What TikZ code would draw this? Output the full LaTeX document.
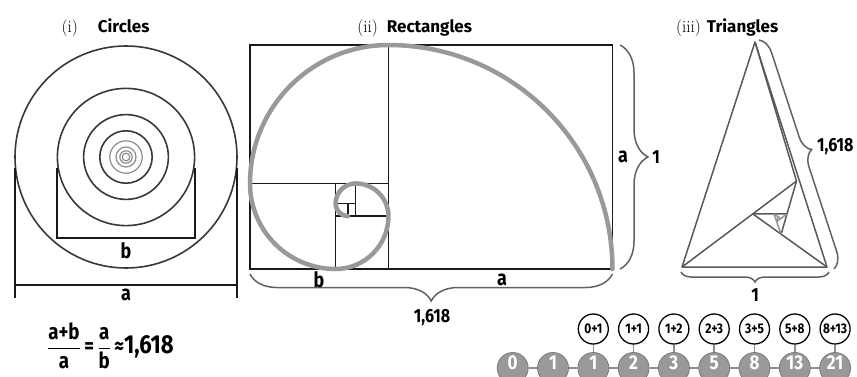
\documentclass[tikz,border=0pt]{standalone}
\usepackage{amsmath}
\usepackage{fontspec}
\usetikzlibrary{calc, decorations.pathreplacing}

\newfontfamily\lblfont{Fira Sans}[FakeStretch=0.85]
\newfontfamily\headfont{Fira Sans}

\begin{document}
\begin{tikzpicture}[x=1pt, y=1pt, % 1 unit = 1 pixel of the layout
      ring/.style={draw=black!78, line width=1.6pt},
      smallring/.style={draw=black!45, line width=1.2pt},
      frame/.style={draw=black!90, line width=1.3pt},
      spiral/.style={draw=black!40, line width=4.5pt, line cap=round},
      tri/.style={draw=black!#1, line width=1.5pt, line join=round},
      tri/.default=65,
      curly/.style={decorate, decoration={brace, amplitude=#1}, draw=black!62, line width=1.5pt},
      lbl/.style={font=\lblfont\bfseries\fontsize{21}{24}\selectfont, inner sep=0pt},
      num/.style={font=\lblfont\bfseries\fontsize{19}{22}\selectfont, inner sep=0pt},
      roman/.style={font=\fontsize{17}{20}\selectfont, anchor=base east, inner sep=0pt},
      heading/.style={font=\headfont\bfseries\fontsize{17}{20}\selectfont, anchor=base west, inner sep=0pt},
      fib/.style={circle, fill=black!40, draw=black!52, line width=0.8pt, minimum size=31pt, inner sep=0pt, text depth=11pt, text=white, font=\lblfont\bfseries\fontsize{20}{22}\selectfont},
      sumbox/.style={circle, fill=white, draw=black, line width=1.3pt, minimum size=30pt, inner sep=0pt, font=\lblfont\bfseries\fontsize{14}{16}\selectfont},
      link/.style={draw=black!45, line width=1.5pt}]

      % Fix the page to the layout size
      \useasboundingbox (0,0) rectangle (857,376);

      % (i) Circles: rings shrinking by the golden ratio
      \coordinate (O) at (126,219);
      \foreach \k in {0,...,3}
        \draw[ring] (O) circle[radius={111/1.618^\k}];
      \foreach \k in {4,...,7}
        \draw[smallring] (O) circle[radius={111/1.618^\k}];

      % Width a of the outer ring
      \draw[frame] (15,208) -- (15,78);
      \draw[frame] (237,208) -- (237,78);
      \draw[frame] (15,91) -- (237,91);
      \node[lbl] (ca) at (126,81) {a};
      % Width b of the second ring
      \draw[frame] (57,208) -- (57,138) -- (195,138) -- (195,208);
      \node[lbl] (cb) at (126,125) {b};

      % Titles
      \node[roman] (n1) at (78,344) {(i)};
      \node[heading] (t1) at (97.7,344) {Circles};
      \node[roman] (n2) at (378,344) {(ii)};
      \node[heading] (t2) at (386.7,344) {Rectangles};
      \node[roman] (n3) at (701,344) {(iii)};
      \node[heading] (t3) at (706.7,344) {Triangles};

      % (ii) Rectangles: golden rectangle split into squares
      \coordinate (R1) at (250,107);
      \coordinate (R2) at (612.44,331);
      \draw[frame] (R1) rectangle (R2);
      \draw[frame] (388.44,107) -- (388.44,331);
      \draw[frame] (250,192.56) -- (388.44,192.56);
      \draw[frame] (335.56,107) -- (335.56,192.56);
      \draw[frame] (335.56,159.88) -- (388.44,159.88);
      \draw[frame] (355.76,159.88) -- (355.76,192.56);
      \draw[frame] (335.56,172.36) -- (355.76,172.36);
      \draw[frame] (348.04,159.88) -- (348.04,172.36);

      % Spiral: one quarter arc per square
      \draw[spiral] (612.44,107) \foreach \k in {0,...,6} {
        arc[start angle=90*\k, end angle=90*\k+90, radius={224/1.618034^\k}]};

      % Braces and lengths
      \draw[curly=28] (620,331) -- (620,107);
      \node[lbl] (ra) at (623,219) {a};
      \node[num] (r1) at (656,219) {1};
      \draw[curly=27] (612.44,102) -- (250,102);
      \node[lbl] (rb) at (319,96) {b};
      \node[lbl] (rc) at (502,96) {a};
      \node[num] (rw) at (432,58) {1,618};

      % (iii) Triangles: golden triangle cut again and again
      \coordinate (P0) at (755,334);
      \coordinate (P1) at (682,109);
      \coordinate (P2) at (827,109);
      \draw[tri] (P0) -- (P1) -- (P2) -- cycle;
      \coordinate (P3) at ($(P2)!0.382!(P0) + (-3,0)$);
      \draw[tri] (P0) -- (P3);
      \draw[tri] (P1) -- (P3);
      \foreach \n [evaluate=\n as \a using int(\n-1),
                   evaluate=\n as \b using int(\n-2),
                   evaluate=\n as \c using int(\n-3),
                   evaluate=\n as \tone using int(\n<7 ? 65 : 42)] in {4,...,10} {
        \coordinate (P\n) at ($(P\a)!0.382!(P\c)$);
        \draw[tri=\tone] (P\b) -- (P\n);
      }

      % Braces and lengths
      \draw[curly=16] (759,336) -- (834,107);
      \node[num, anchor=west] (tl) at (817,229) {1,618};
      \draw[curly=10] (829,104) -- (681,104);
      \node[num] (tb) at (755,81) {1};

      % Ratio
      \node[lbl, font=\lblfont\bfseries\fontsize{22}{26}\selectfont, anchor=west] (eq) at (47,30)
        {$\dfrac{\text{a+b}}{\text{a}}\,\text{=}\,\dfrac{\text{a}}{\text{b}}\,\text{≈}\text{\fontsize{26}{30}\selectfont 1,618}$};

      % Fibonacci numbers and the sums that give them
      \foreach \v [count=\i from 0] in {0,1,1,2,3,5,8,13,21}
        \node[fib] (F\i) at (512.7+40.3*\i,8) {\v};
      \foreach \i [evaluate=\i as \j using int(\i+1)] in {0,...,7}
        \draw[link] (F\i) -- (F\j);
      \foreach \s [count=\i from 2] in {0+1,1+1,1+2,2+3,3+5,5+8,8+13}
        \node[sumbox] (S\i) at (512.7+40.3*\i,47) {\s};
      \foreach \i in {2,...,8}
        \draw[link] (S\i) -- (F\i);

    \end{tikzpicture}
\end{document}
